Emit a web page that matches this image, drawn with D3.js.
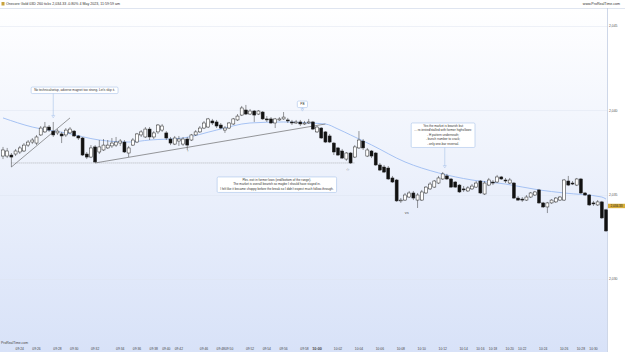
<!DOCTYPE html>
<html>
<head>
<meta charset="utf-8">
<script src="https://cdn.jsdelivr.net/npm/d3@7"></script>
<style>
  html, body { margin: 0; padding: 0; background: #fff; }
  svg { display: block; font-family: "Liberation Sans", Arial, sans-serif; }
</style>
</head>
<body>
<div id="chart"></div>
<script>
// candles (260 ticks each)
var opens = [2037.29, 2037.29, 2037.35, 2037.41, 2037.53, 2037.59, 2037.94, 2038.12, 2038.06, 2038.54,
    2038.72, 2039.01, 2038.77, 2038.66, 2038.60, 2038.54, 2038.66, 2038.77, 2038.48, 2038.36,
    2037.41, 2037.23, 2037.83, 2037.53, 2037.65, 2037.77, 2037.89, 2037.94, 2038.06, 2038.12,
    2037.47, 2037.94, 2038.12, 2038.54, 2038.42, 2038.89, 2038.42, 2038.72, 2038.83, 2038.66,
    2038.30, 2038.00, 2038.18, 2038.00, 2038.30, 2038.24, 2038.54, 2038.72, 2038.95, 2039.01,
    2039.37, 2039.31, 2039.13, 2038.83, 2038.95, 2039.19, 2039.43, 2039.72, 2040.02, 2039.78,
    2039.96, 2039.78, 2039.90, 2039.49, 2039.49, 2039.25, 2039.43, 2039.49, 2039.43, 2039.31,
    2039.25, 2039.31, 2039.19, 2039.25, 2039.31, 2038.72, 2038.95, 2038.72, 2038.48, 2038.06,
    2037.77, 2037.59, 2037.11, 2037.47, 2037.23, 2037.77, 2038.18, 2037.29, 2037.59, 2037.47,
    2036.76, 2036.64, 2036.58, 2035.99, 2035.87, 2034.63, 2034.68, 2034.86, 2035.10, 2034.68,
    2034.68, 2035.10, 2035.34, 2035.45, 2035.69, 2035.93, 2036.11, 2035.93, 2035.75, 2035.57,
    2035.34, 2035.22, 2035.34, 2035.45, 2035.81, 2035.04, 2035.57, 2035.75, 2035.75, 2036.05,
    2035.87, 2035.69, 2035.69, 2034.80, 2034.74, 2034.68, 2034.86, 2034.98, 2035.28, 2034.51,
    2034.27, 2034.51, 2034.57, 2034.68, 2034.68, 2035.81, 2035.69, 2035.57, 2035.93, 2035.10,
    2034.98, 2034.51, 2034.39, 2034.57, 2034.10];
var highs = [2037.83, 2037.77, 2037.47, 2037.71, 2037.89, 2038.06, 2038.24, 2038.36, 2038.54, 2039.07,
    2039.31, 2039.13, 2039.31, 2038.89, 2038.72, 2038.95, 2039.01, 2038.83, 2038.54, 2038.42,
    2037.53, 2037.94, 2037.94, 2038.24, 2038.30, 2038.24, 2038.36, 2038.42, 2038.30, 2038.24,
    2037.89, 2038.36, 2038.66, 2038.83, 2039.01, 2039.01, 2038.77, 2039.19, 2039.19, 2038.77,
    2038.42, 2038.48, 2038.48, 2038.42, 2038.42, 2038.60, 2038.83, 2039.07, 2039.37, 2039.55,
    2039.49, 2039.43, 2039.25, 2039.07, 2039.31, 2039.55, 2039.78, 2040.26, 2040.32, 2040.08,
    2040.02, 2040.02, 2039.96, 2039.66, 2039.60, 2039.55, 2039.60, 2039.90, 2039.55, 2039.43,
    2039.43, 2039.43, 2039.37, 2039.49, 2039.37, 2039.07, 2039.01, 2038.77, 2038.60, 2038.12,
    2037.83, 2037.71, 2037.53, 2037.53, 2037.94, 2038.77, 2038.30, 2037.77, 2037.65, 2037.53,
    2036.88, 2036.76, 2036.70, 2036.11, 2035.93, 2034.80, 2035.10, 2035.22, 2035.22, 2035.10,
    2035.28, 2035.51, 2035.75, 2035.87, 2036.11, 2036.34, 2036.23, 2035.99, 2035.81, 2035.63,
    2035.51, 2035.51, 2035.63, 2035.81, 2035.87, 2035.81, 2035.99, 2035.87, 2036.17, 2036.11,
    2035.99, 2035.99, 2035.75, 2034.92, 2034.86, 2034.98, 2035.16, 2035.22, 2035.34, 2034.57,
    2034.57, 2034.74, 2034.86, 2034.92, 2035.93, 2036.11, 2035.81, 2035.99, 2035.99, 2035.16,
    2035.04, 2034.63, 2034.68, 2034.63, 2034.16];
var lows = [2037.11, 2037.17, 2036.64, 2037.29, 2037.41, 2037.53, 2037.83, 2038.00, 2037.94, 2038.48,
    2038.66, 2038.72, 2038.42, 2038.54, 2038.06, 2038.42, 2038.60, 2038.42, 2038.24, 2037.29,
    2037.11, 2037.17, 2036.88, 2037.41, 2037.59, 2037.71, 2037.77, 2037.83, 2037.89, 2037.47,
    2037.23, 2037.89, 2038.06, 2038.42, 2038.36, 2038.24, 2038.30, 2038.60, 2038.72, 2038.24,
    2037.94, 2037.94, 2037.89, 2037.89, 2037.65, 2038.18, 2038.48, 2038.66, 2038.89, 2038.95,
    2039.13, 2038.95, 2038.89, 2038.66, 2038.89, 2039.13, 2039.37, 2039.66, 2039.72, 2039.72,
    2039.31, 2039.72, 2039.43, 2039.31, 2039.19, 2038.95, 2039.37, 2039.43, 2039.25, 2039.13,
    2039.19, 2039.07, 2039.13, 2039.19, 2038.83, 2038.66, 2038.30, 2038.06, 2038.06, 2037.35,
    2037.29, 2037.11, 2037.00, 2036.82, 2037.17, 2037.71, 2037.65, 2037.23, 2037.17, 2036.70,
    2036.40, 2036.28, 2035.87, 2035.69, 2034.57, 2034.51, 2034.63, 2034.80, 2034.68, 2034.21,
    2034.63, 2035.04, 2035.28, 2035.40, 2035.63, 2035.87, 2035.87, 2035.40, 2035.40, 2035.10,
    2035.16, 2035.16, 2035.28, 2035.40, 2035.04, 2034.98, 2035.51, 2035.57, 2035.69, 2035.87,
    2035.69, 2035.63, 2034.74, 2034.63, 2034.57, 2034.63, 2034.80, 2034.92, 2034.45, 2034.21,
    2033.91, 2034.45, 2034.51, 2034.63, 2034.63, 2035.51, 2035.57, 2035.51, 2035.04, 2034.92,
    2034.33, 2034.33, 2034.33, 2033.56, 2032.79];
var closes = [2037.65, 2037.59, 2037.23, 2037.59, 2037.77, 2037.94, 2038.12, 2038.24, 2038.42, 2038.95,
    2039.01, 2038.83, 2038.54, 2038.77, 2038.48, 2038.83, 2038.89, 2038.48, 2038.36, 2037.35,
    2037.23, 2037.77, 2036.94, 2037.83, 2037.94, 2037.94, 2038.06, 2038.12, 2038.18, 2037.53,
    2037.77, 2038.24, 2038.60, 2038.72, 2038.89, 2038.42, 2038.66, 2039.13, 2039.07, 2038.36,
    2038.06, 2038.36, 2038.30, 2038.30, 2037.94, 2038.54, 2038.72, 2038.95, 2039.25, 2039.49,
    2039.25, 2039.07, 2038.95, 2038.95, 2039.25, 2039.49, 2039.66, 2040.14, 2039.78, 2039.96,
    2039.72, 2039.96, 2039.49, 2039.43, 2039.25, 2039.49, 2039.49, 2039.60, 2039.37, 2039.25,
    2039.31, 2039.19, 2039.25, 2039.31, 2038.89, 2039.01, 2038.36, 2038.12, 2038.12, 2037.53,
    2037.35, 2037.17, 2037.47, 2036.88, 2037.83, 2038.24, 2037.77, 2037.65, 2037.29, 2036.76,
    2036.46, 2036.34, 2035.93, 2035.75, 2034.63, 2034.68, 2034.98, 2035.10, 2034.80, 2034.98,
    2035.16, 2035.45, 2035.63, 2035.81, 2035.99, 2036.23, 2035.93, 2035.45, 2035.45, 2035.16,
    2035.28, 2035.40, 2035.51, 2035.69, 2035.10, 2035.69, 2035.87, 2035.69, 2036.05, 2035.93,
    2035.81, 2035.87, 2034.80, 2034.68, 2034.68, 2034.86, 2035.10, 2035.16, 2034.51, 2034.27,
    2034.51, 2034.68, 2034.80, 2034.86, 2035.87, 2035.57, 2035.63, 2035.93, 2035.10, 2034.98,
    2034.39, 2034.45, 2034.57, 2033.62, 2032.85];

// moving average, sampled at these bars
var emaBars = [0, 7, 15, 23, 30, 35, 43, 51, 59, 67, 73, 77, 80, 83, 88, 96, 104, 112, 120, 128, 134, 143, 144];
var emaValues = [2039.55, 2039.01, 2038.66, 2038.24, 2038.12, 2038.24, 2038.36, 2038.83, 2039.25, 2039.31,
    2039.25, 2039.19, 2038.89, 2038.54, 2037.95, 2036.94, 2036.29, 2035.87, 2035.63, 2035.28,
    2035.10, 2034.86, 2034.74];

// time labels and the bar they sit under
var timeLabels = ["09:24", "09:26", "09:28", "09:30", "09:32", "09:34", "09:36", "09:38", "09:40", "09:42",
    "09:46", "09:48", "09:50", "09:52", "09:54", "09:56", "09:58", "10:00", "10:02", "10:04",
    "10:06", "10:08", "10:10", "10:12", "10:14", "10:16", "10:18", "10:20", "10:22", "10:24",
    "10:26", "10:28", "10:30"];
var timeBars = [4, 8, 13, 17, 22, 28, 32, 36, 39, 42, 48, 52, 54, 59, 63, 67, 72, 75, 80, 85,
    90, 95, 100, 105, 110, 114, 117, 121, 124, 129, 134, 138, 141];

var priceTicks = [2030, 2035, 2040, 2045];
var lastPrice = 2034.33;

// trend lines: [bar, price] pairs
var trendLines = [
    [[2, 2036.64], [16, 2039.55]],
    [[22, 2036.88], [77, 2039.19]]
];
var supportLevel = {from: 2, to: 84, price: 2036.88};

var notes = [
    {bar: 17.1, top: 2041.38, lines: ["No technicalsetup, adverse magnet too strong. Let's skip it."],
        arrowBar: 12, arrowTo: 2039.55},
    {bar: 71.5, top: 2040.55, lines: ["PB"], arrowBar: 71.5, arrowTo: 2039.95},
    {bar: 65.4, top: 2036.05, lines: ["Pbs. exit in former lows (end/bottom of the range).",
        "The market is overall bearish so maybe I should have stayed in.",
        "I felt like it became choppy before the break so I didn't expect much follow-through."]},
    {bar: 105.1, top: 2039.25, lines: ["Yes the market is bearish but",
        "... re-tested/stalled with former highs/lows:",
        "- H pattern underneath;",
        "- bunch number to crack;",
        "- only one-bar reversal."], arrowBar: 105.5, arrowTo: 2036.58}
];
var marks = [
    {bar: 82.3, price: 2036.40, text: "\u2606"},
    {bar: 44.1, price: 2037.53, text: "\u2191"},
    {bar: 96.4, price: 2033.85, text: "vs"}
];

var width = 625, height = 352;
var plotRight = 607, plotTop = 8, plotBottom = 346;

var svg = d3.select("#chart")
    .append("svg")
    .attr("width", width)
    .attr("height", height);

var x = d3.scaleLinear().domain([0, opens.length - 1]).range([3, 606]);
var y = d3.scaleLinear().domain([2030, 2045]).range([279, 26]);

// background
var defs = svg.append("defs");
var grad = defs.append("linearGradient")
    .attr("id", "bg")
    .attr("x1", 0).attr("y1", 0).attr("x2", 0).attr("y2", 1);
grad.append("stop").attr("offset", "0%").attr("stop-color", "#ffffff");
grad.append("stop").attr("offset", "100%").attr("stop-color", "#d8e2f8");

svg.append("rect")
    .attr("width", width).attr("height", height)
    .attr("fill", "#ffffff");
svg.append("rect")
    .attr("x", 0).attr("y", plotTop)
    .attr("width", plotRight).attr("height", height - plotTop)
    .attr("fill", "url(#bg)");

// header
svg.append("line")
    .attr("x1", 0).attr("x2", width)
    .attr("y1", plotTop + 0.5).attr("y2", plotTop + 0.5)
    .attr("stroke", "#c9d3e6").attr("stroke-width", 0.6);
svg.append("rect")
    .attr("x", 1.5).attr("y", 2).attr("width", 3).attr("height", 3.5)
    .attr("fill", "#c8a23c");
svg.append("text")
    .text("Onecore Gold 03D 260 ticks 2,034.33 -0.80% 4 May 2023, 11:59:59 am")
    .attr("x", 6).attr("y", 5.3)
    .attr("font-size", "3.6px")
    .attr("fill", "#333");
svg.append("text")
    .text("www.ProRealTime.com")
    .attr("x", 620).attr("y", 5.3)
    .attr("text-anchor", "end")
    .attr("font-size", "3.6px")
    .attr("fill", "#333");

// grid lines
svg.selectAll("line.grid")
    .data(priceTicks)
    .enter()
    .append("line")
    .attr("class", "grid")
    .attr("x1", 0).attr("x2", plotRight)
    .attr("y1", function (d) { return Math.round(y(d)) + 0.5; })
    .attr("y2", function (d) { return Math.round(y(d)) + 0.5; })
    .attr("stroke", "#dfe5f1").attr("stroke-width", 0.5);

// right axis
svg.append("line")
    .attr("x1", plotRight + 0.5).attr("x2", plotRight + 0.5)
    .attr("y1", plotTop).attr("y2", height)
    .attr("stroke", "#b9c6de").attr("stroke-width", 0.7);
svg.selectAll("text.ytick")
    .data(priceTicks)
    .enter()
    .append("text")
    .attr("class", "ytick")
    .text(function (d) { return d3.format(",")(d); })
    .attr("x", 609)
    .attr("y", function (d) { return y(d) + 1.2; })
    .attr("font-size", "3.4px")
    .attr("fill", "#555");

// bottom axis
svg.append("text")
    .text("ProRealTime.com")
    .attr("x", 1).attr("y", 344)
    .attr("font-size", "3.4px")
    .attr("fill", "#444");
svg.selectAll("text.xtick")
    .data(timeLabels)
    .enter()
    .append("text")
    .attr("class", "xtick")
    .text(function (d) { return d; })
    .attr("x", function (d, i) { return x(timeBars[i]); })
    .attr("y", 350)
    .attr("text-anchor", "middle")
    .attr("font-size", function (d) { return d === "10:00" ? "3.8px" : "3.3px"; })
    .attr("font-weight", function (d) { return d === "10:00" ? "bold" : "normal"; })
    .attr("fill", "#444");

// support level (dotted)
svg.append("line")
    .attr("x1", x(supportLevel.from)).attr("x2", x(supportLevel.to))
    .attr("y1", y(supportLevel.price)).attr("y2", y(supportLevel.price))
    .attr("stroke", "#777").attr("stroke-width", 0.5)
    .style("stroke-dasharray", ("1, 1"));

// moving average
var ema = emaBars.map(function (b, i) { return [b, emaValues[i]]; });
svg.append("path")
    .datum(ema)
    .attr("fill", "none")
    .attr("stroke", "#9dbcf2")
    .attr("stroke-width", 0.9)
    .attr("d", d3.line()
        .x(function (d) { return x(d[0]); })
        .y(function (d) { return y(d[1]); })
        .curve(d3.curveMonotoneX));

// trend lines
svg.selectAll("line.trend")
    .data(trendLines)
    .enter()
    .append("line")
    .attr("class", "trend")
    .attr("x1", function (d) { return x(d[0][0]); })
    .attr("y1", function (d) { return y(d[0][1]); })
    .attr("x2", function (d) { return x(d[1][0]); })
    .attr("y2", function (d) { return y(d[1][1]); })
    .attr("stroke", "#555").attr("stroke-width", 0.6);

// candles
var bars = d3.range(opens.length).map(function (i) {
    return {i: i, o: opens[i], h: highs[i], l: lows[i], c: closes[i]};
});
var bodyW = 3;
var candle = svg.selectAll("g.candle")
    .data(bars)
    .enter()
    .append("g")
    .attr("class", "candle");
candle.append("line")
    .attr("x1", function (d) { return x(d.i); })
    .attr("x2", function (d) { return x(d.i); })
    .attr("y1", function (d) { return y(d.h); })
    .attr("y2", function (d) { return y(d.l); })
    .attr("stroke", "#333").attr("stroke-width", 0.5);
candle.append("rect")
    .attr("x", function (d) { return x(d.i) - bodyW / 2; })
    .attr("y", function (d) { return y(Math.max(d.o, d.c)); })
    .attr("width", bodyW)
    .attr("height", function (d) { return Math.max(0.6, Math.abs(y(d.o) - y(d.c))); })
    .attr("fill", function (d) { return d.c >= d.o ? "#ffffff" : "#111111"; })
    .attr("stroke", "#222").attr("stroke-width", 0.5);

// last price tag
svg.append("rect")
    .attr("x", plotRight + 1).attr("y", y(lastPrice) - 2.2)
    .attr("width", 17).attr("height", 4.4)
    .attr("fill", "#d9ae3b");
svg.append("text")
    .text(d3.format(",.2f")(lastPrice))
    .attr("x", plotRight + 9.5).attr("y", y(lastPrice) + 1.1)
    .attr("text-anchor", "middle")
    .attr("font-size", "3.1px")
    .attr("fill", "#222");

// annotation boxes
var lineH = 4.5;
notes.forEach(function (n) {
    var g = svg.append("g");
    var cx = x(n.bar), top = y(n.top);
    var txt = g.selectAll("text")
        .data(n.lines)
        .enter()
        .append("text")
        .text(function (d) { return d; })
        .attr("x", cx)
        .attr("y", function (d, i) { return top + 4 + i * lineH; })
        .attr("text-anchor", "middle")
        .attr("font-size", "3.1px")
        .attr("fill", "#333");
    var w = 0;
    txt.each(function () { w = Math.max(w, this.getComputedTextLength()); });
    var h = n.lines.length * lineH + 2;
    g.insert("rect", "text")
        .attr("x", cx - w / 2 - 3).attr("y", top)
        .attr("width", w + 6).attr("height", h)
        .attr("rx", 1.2)
        .attr("fill", "#ffffff")
        .attr("stroke", "#a8c2ea").attr("stroke-width", 0.6);
    if (n.arrowBar !== undefined) {
        var ax = x(n.arrowBar), ay = y(n.arrowTo);
        g.append("line")
            .attr("x1", ax).attr("x2", ax)
            .attr("y1", top + h).attr("y2", ay - 2)
            .attr("stroke", "#a8c2ea").attr("stroke-width", 0.6);
        g.append("path")
            .attr("d", "M" + (ax - 1.5) + "," + (ay - 2.5) + "L" + (ax + 1.5) + "," + (ay - 2.5) + "L" + ax + "," + ay + "Z")
            .attr("fill", "none")
            .attr("stroke", "#a8c2ea").attr("stroke-width", 0.5);
    }
});

// small marks
svg.selectAll("text.mark")
    .data(marks)
    .enter()
    .append("text")
    .attr("class", "mark")
    .text(function (d) { return d.text; })
    .attr("x", function (d) { return x(d.bar); })
    .attr("y", function (d) { return y(d.price); })
    .attr("text-anchor", "middle")
    .attr("font-size", "4px")
    .attr("fill", "#555");
</script>
</body>
</html>
